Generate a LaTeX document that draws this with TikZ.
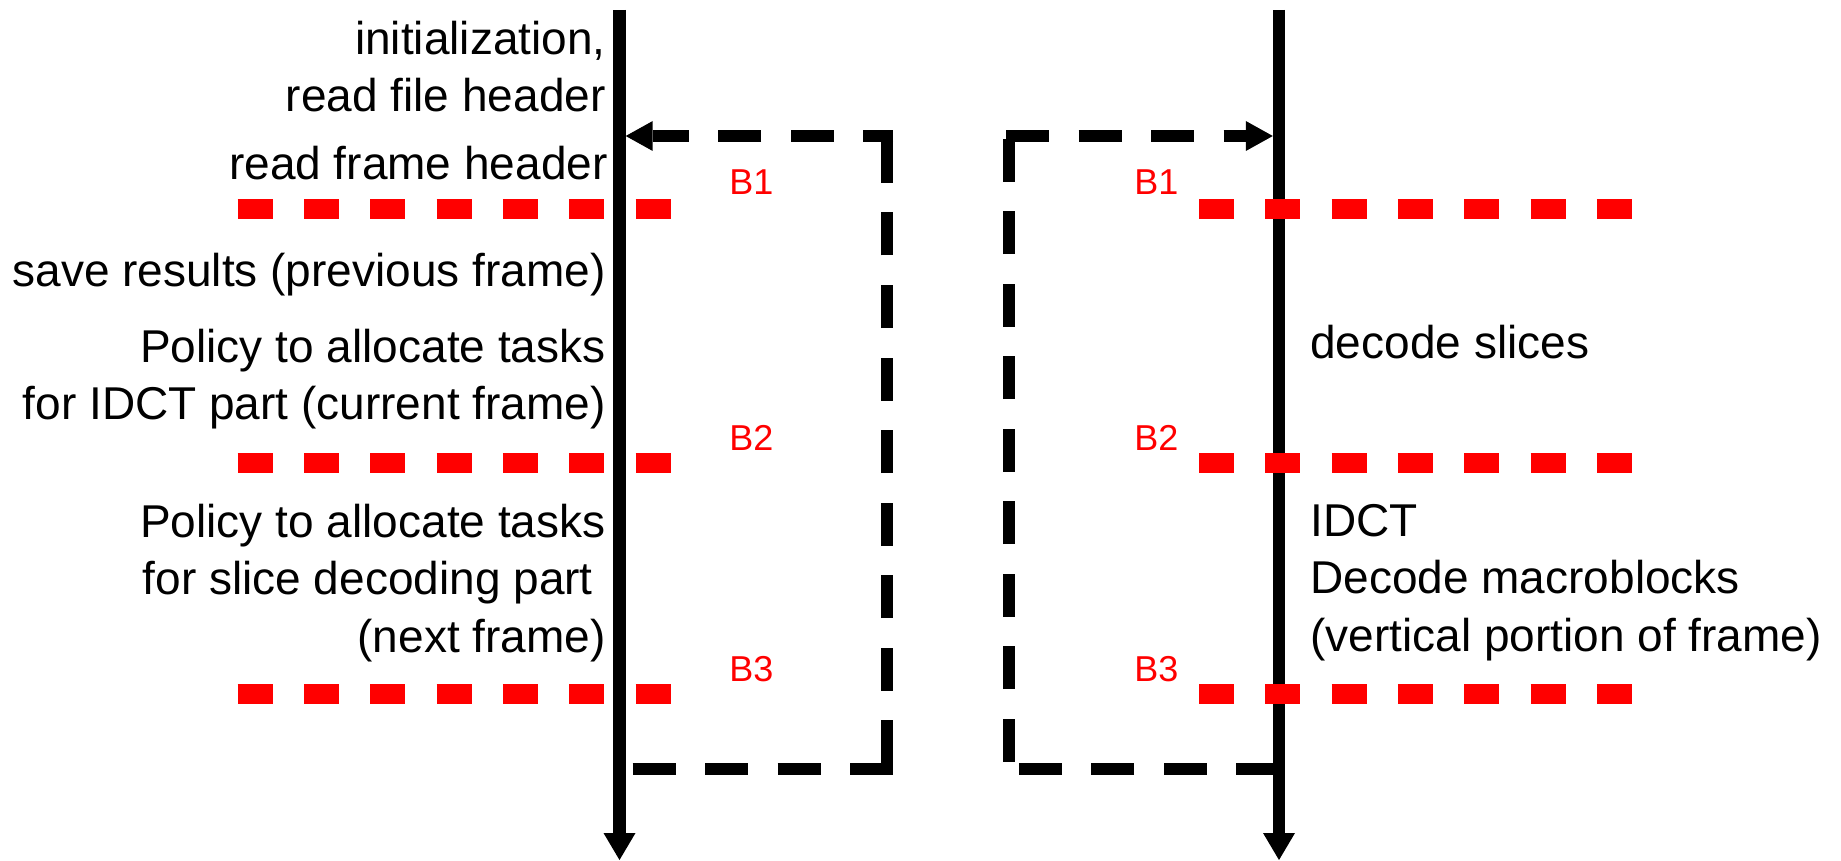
\documentclass[tikz,border=0pt]{standalone}
\usepackage{fontspec}
\setmainfont{Liberation Sans}
\usetikzlibrary{arrows.meta}
\definecolor{barrierred}{RGB}{255,0,0}
\tikzset{
  timeline/.style={line width=6.2pt,
    -{Triangle[length=13.5pt,width=16pt,line width=0pt]}},
  boxline/.style={line width=5.75pt, dash pattern=on 21.5pt off 14.75pt},
  boxarrow/.style={-{Triangle[length=13.5pt,width=15pt,line width=0pt]}},
  barrier/.style={barrierred, line width=10pt, dash pattern=on 17.5pt off 15.65pt},
  steptext/.style={inner sep=0pt, font=\fontsize{23pt}{28.75pt}\selectfont},
  blabel/.style={inner sep=0pt, text=barrierred, font=\fontsize{18pt}{21pt}\selectfont}
}
\begin{document}
\begin{tikzpicture}[x=0.5pt,y=-0.5pt]
\useasboundingbox (0,0) rectangle (1841,861);

% time axes of the two threads
\coordinate (Ltop) at (619.5,10);
\coordinate (Lbot) at (619.5,860);
\coordinate (Rtop) at (1279,10);
\coordinate (Rbot) at (1279,860);
\draw[timeline] (Ltop) -- (Lbot);
\draw[timeline] (Rtop) -- (Rbot);

% loop of the first thread
\coordinate (lb0) at (632.7,769);
\coordinate (lb1) at (893,769);
\coordinate (lr0) at (887,763);
\coordinate (lr1) at (887,130);
\coordinate (lt0) at (893,136);
\coordinate (lt1) at (625.7,136);
\draw[boxline] (lb0) -- (lb1);
\draw[boxline] (lr0) -- (lr1);
\draw[boxline, dash phase=6.5pt, boxarrow] (lt0) -- (lt1);

% loop of the second thread
\coordinate (rb0) at (1279,769);
\coordinate (rb1) at (1003,769);
\coordinate (rl0) at (1009,761.7);
\coordinate (rl1) at (1009,130);
\coordinate (rt0) at (1006,136);
\coordinate (rt1) at (1272.8,136);
\draw[boxline] (rb0) -- (rb1);
\draw[boxline] (rl0) -- (rl1);
\draw[boxline, boxarrow] (rt0) -- (rt1);

% barriers
\coordinate (b1a) at (237.7,209.5);  \coordinate (b1b) at (670.7,209.5);
\coordinate (b2a) at (237.7,463);    \coordinate (b2b) at (670.7,463);
\coordinate (b3a) at (237.7,694);    \coordinate (b3b) at (670.7,694);
\coordinate (c1a) at (1199,209.5);   \coordinate (c1b) at (1632,209.5);
\coordinate (c2a) at (1199,463);     \coordinate (c2b) at (1632,463);
\coordinate (c3a) at (1199,694);     \coordinate (c3b) at (1632,694);
\draw[barrier] (b1a) -- (b1b);
\draw[barrier] (b2a) -- (b2b);
\draw[barrier] (b3a) -- (b3b);
\draw[barrier] (c1a) -- (c1b);
\draw[barrier] (c2a) -- (c2b);
\draw[barrier] (c3a) -- (c3b);

% barrier labels
\node[blabel, anchor=base west] (lB1) at (729,195) {B1};
\node[blabel, anchor=base west] (lB2) at (729,450) {B2};
\node[blabel, anchor=base west] (lB3) at (729,681.7) {B3};
\node[blabel, anchor=base west] (rB1) at (1134,195) {B1};
\node[blabel, anchor=base west] (rB2) at (1134,450) {B2};
\node[blabel, anchor=base west] (rB3) at (1134,681.7) {B3};

% work of the first thread (base = baseline of the last line)
\node[steptext, align=right, anchor=base east] (init) at (606,111.7)
  {initialization,\\read file header};
\node[steptext, anchor=base east] (frame) at (608,180) {read frame header};
\node[steptext, anchor=base east] (save) at (606,286) {save results (previous frame)};
\node[steptext, align=right, anchor=base east] (pol1) at (606,419.5)
  {Policy to allocate tasks\\for IDCT part (current frame)};
\node[steptext, align=right, anchor=base east] (pol2) at (606,652)
  {Policy to allocate tasks\\for slice decoding part\kern0.278em\\(next frame)};

% work of the second thread
\node[steptext, anchor=base west] (slices) at (1310,358) {decode slices};
\node[steptext, align=left, anchor=base west] (idct) at (1310,651)
  {IDCT\\Decode macroblocks\\(vertical portion of frame)};
\end{tikzpicture}
\end{document}
